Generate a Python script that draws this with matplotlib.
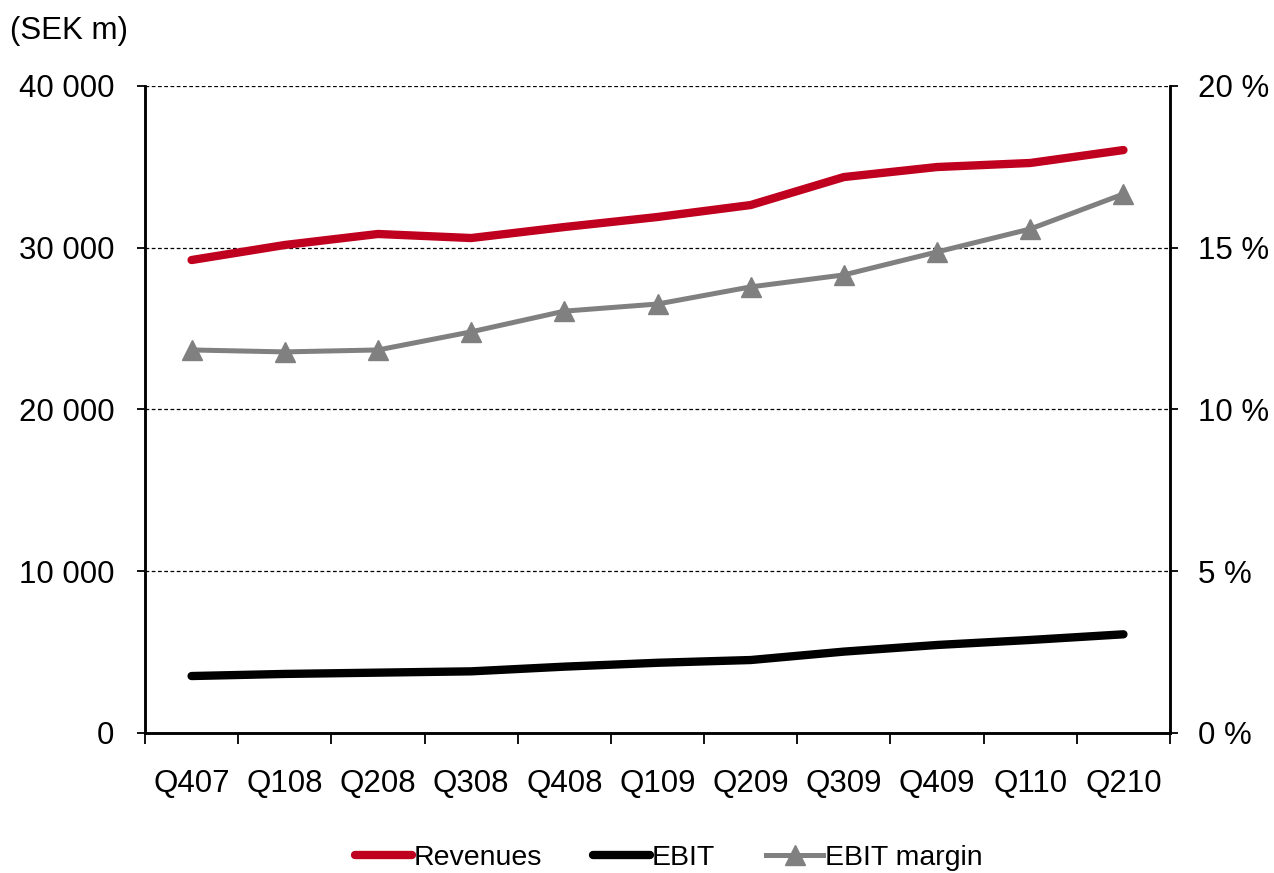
import matplotlib.pyplot as plt
import numpy as np

plt.rcParams['font.family'] = ['Liberation Sans', 'DejaVu Sans']

# quarterly figures
quarters = ['Q407', 'Q108', 'Q208', 'Q308', 'Q408', 'Q109',
            'Q209', 'Q309', 'Q409', 'Q110', 'Q210']
revenues = [29240, 30170, 30850, 30600, 31280, 31900,
            32640, 34370, 34990, 35240, 36040]
ebit = [3520, 3650, 3730, 3810, 4100, 4340,
        4510, 5030, 5440, 5750, 6100]
ebit_margin = [11.84, 11.78, 11.84, 12.40, 13.04, 13.26,
               13.79, 14.16, 14.87, 15.58, 16.66]

left_ticks = [0, 10000, 20000, 30000, 40000]
left_labels = ['0', '10 000', '20 000', '30 000', '40 000']
right_ticks = [0, 5, 10, 15, 20]
right_labels = ['0 %', '5 %', '10 %', '15 %', '20 %']

red = '#C0001F'
grey = '#808080'

fig = plt.figure(figsize=(12.74, 8.73), dpi=100)
ax = fig.add_axes([0.1138, 0.1604, 0.8046, 0.7411])
ax2 = ax.twinx()

x = np.arange(len(quarters))

l1, = ax.plot(x, revenues, color=red, lw=6, solid_capstyle='round',
              solid_joinstyle='round', label='Revenues', zorder=3)
l2, = ax.plot(x, ebit, color='black', lw=6, solid_capstyle='round',
              solid_joinstyle='round', label='EBIT', zorder=3)
l3, = ax2.plot(x, ebit_margin, color=grey, lw=3.6, marker='^', ms=14,
               label='EBIT margin', zorder=3)

ax.set_xlim(-0.5, len(quarters) - 0.5)
ax.set_ylim(0, 40000)
ax2.set_ylim(0, 20)

ax.set_yticks(left_ticks)
ax.set_yticklabels(left_labels)
ax2.set_yticks(right_ticks)
ax2.set_yticklabels(right_labels)

# category labels centred, tick marks on bin edges
ax.set_xticks(np.arange(-0.5, len(quarters), 1.0))
ax.set_xticklabels([])
ax.set_xticks(x, minor=True)
ax.set_xticklabels(quarters, minor=True)
ax.tick_params(axis='x', which='minor', length=0, pad=26, labelsize=22.5)
ax.tick_params(axis='x', which='major', length=8, width=1.3, direction='out')

ax.tick_params(axis='y', length=6, width=1.3, pad=16, labelsize=22.5)
ax2.tick_params(axis='y', length=6, width=1.3, pad=14, labelsize=22.5)

for a in (ax, ax2):
    a.spines['top'].set_visible(False)
    for s in ('left', 'right', 'bottom'):
        a.spines[s].set_linewidth(1.8)

ax.grid(axis='y', color='black', linestyle=(0, (3, 2)), lw=0.9)
ax.set_axisbelow(True)

fig.text(0.008, 0.965, '(SEK m)', fontsize=22.5, va='center', ha='left')

fig.legend(handles=[l1, l2, l3], loc='center', bbox_to_anchor=(0.525, 0.017),
           ncol=3, frameon=False, fontsize=20.5, handlelength=2.0,
           handletextpad=0.05, columnspacing=1.8)

fig.savefig('out.png', dpi=100)
